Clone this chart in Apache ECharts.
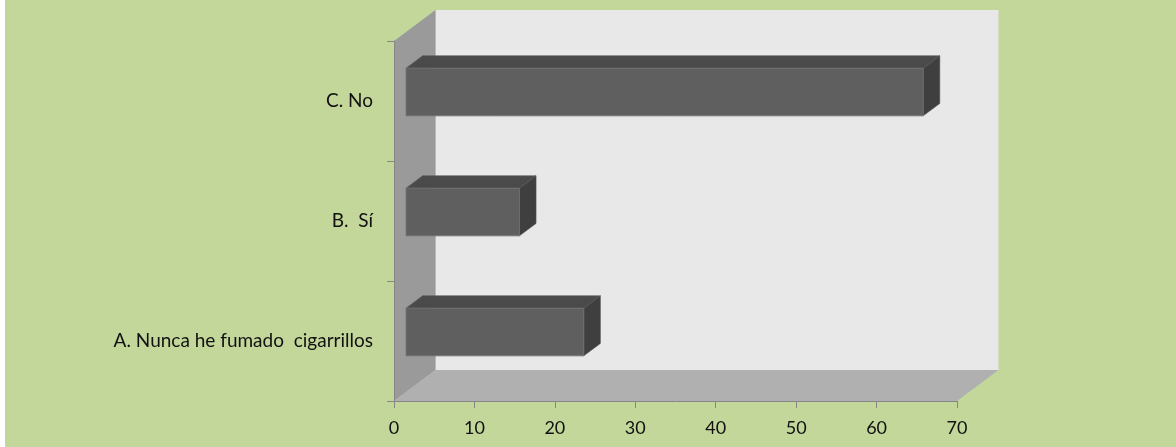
<!DOCTYPE html>
<html>
<head>
<meta charset="utf-8">
<script src="https://cdn.jsdelivr.net/npm/echarts@6/dist/echarts.min.js"></script>
<style>
  html, body { margin: 0; padding: 0; background: #ffffff; }
  #chart { position: absolute; left: 5px; top: 0; width: 1171px; height: 447px; background: #C4D79B; }
</style>
</head>
<body>
<div id="chart"></div>
<script>
// ---- data ----
const categories = ['A. Nunca he fumado  cigarrillos', 'B.  Sí', 'C. No'];
const values = [22.1, 14.1, 64.3];
const xTicks = [0, 10, 20, 30, 40, 50, 60, 70];

// ---- 3D styling (depth of the box and of the bars) ----
const DX = 41.5, DY = -31;        // depth offset of the whole box
const FRONT = 0.29, BACK = 0.69;  // bar depth fractions
const BAR_FRAC = 0.3975;          // bar thickness as fraction of band

const chart = echarts.init(document.getElementById('chart'));

function wallsRender(params, api) {
  const cs = params.coordSys;
  const x = cs.x, y = cs.y, w = cs.width, h = cs.height;
  return {
    type: 'group',
    children: [
      { type: 'rect', shape: { x: x + DX, y: y + DY, width: w, height: h },
        style: { fill: '#E8E8E8' } },
      { type: 'polygon', shape: { points: [[x, y], [x + DX, y + DY], [x + DX, y + h + DY], [x, y + h]] },
        style: { fill: '#9A9A9A' } },
      { type: 'polygon', shape: { points: [[x, y + h], [x + w, y + h], [x + w + DX, y + h + DY], [x + DX, y + h + DY]] },
        style: { fill: '#B0B0B0' } }
    ]
  };
}

function barRender(params, api) {
  const v = api.value(0), c = api.value(1);
  const p0 = api.coord([0, c]);
  const p1 = api.coord([v, c]);
  const band = api.size([0, 1])[1];
  const bh = band * BAR_FRAC;
  const fx = FRONT * DX, fy = FRONT * DY;
  const bdx = (BACK - FRONT) * DX, bdy = (BACK - FRONT) * DY;
  const x0 = p0[0] + fx, x1 = p1[0] + fx;
  const yc = p0[1] + fy;
  const yt = yc - bh / 2, yb = yc + bh / 2;
  return {
    type: 'group',
    children: [
      { type: 'polygon', shape: { points: [[x0, yt], [x1, yt], [x1 + bdx, yt + bdy], [x0 + bdx, yt + bdy]] },
        style: { fill: '#4A4A4A', stroke: '#5a5a5a', lineWidth: 0.6 } },
      { type: 'polygon', shape: { points: [[x1, yt], [x1 + bdx, yt + bdy], [x1 + bdx, yb + bdy], [x1, yb]] },
        style: { fill: '#3F3F3F', stroke: '#555555', lineWidth: 0.6 } },
      { type: 'rect', shape: { x: x0, y: yt, width: x1 - x0, height: bh },
        style: { fill: '#5F5F5F', stroke: '#707070', lineWidth: 0.8 } }
    ]
  };
}

chart.setOption({
  animation: false,
  backgroundColor: '#C4D79B',
  grid: { left: 389, top: 41, width: 563, height: 360, containLabel: false },
  xAxis: {
    type: 'value', min: xTicks[0], max: xTicks[xTicks.length - 1], interval: 10,
    z: 10,
    axisLine: { show: true, lineStyle: { color: '#868686', width: 1 } },
    axisTick: { show: true, length: 7, lineStyle: { color: '#868686' } },
    splitLine: { show: false },
    axisLabel: { color: '#111', fontFamily: 'Lato', fontSize: 18, margin: 18 }
  },
  yAxis: {
    type: 'category', data: categories,
    z: 10,
    axisLine: { show: true, lineStyle: { color: '#868686', width: 1 } },
    axisTick: { show: true, length: 7, lineStyle: { color: '#868686' } },
    axisLabel: { color: '#111', fontFamily: 'Lato', fontSize: 19, margin: 21 }
  },
  series: [
    { type: 'custom', name: 'walls', renderItem: wallsRender, data: [[0, 0]], z: 1, silent: true },
    { type: 'custom', name: 'bars', renderItem: barRender, z: 3,
      data: values.map((v, i) => [v, i]) }
  ]
});
</script>
</body>
</html>
